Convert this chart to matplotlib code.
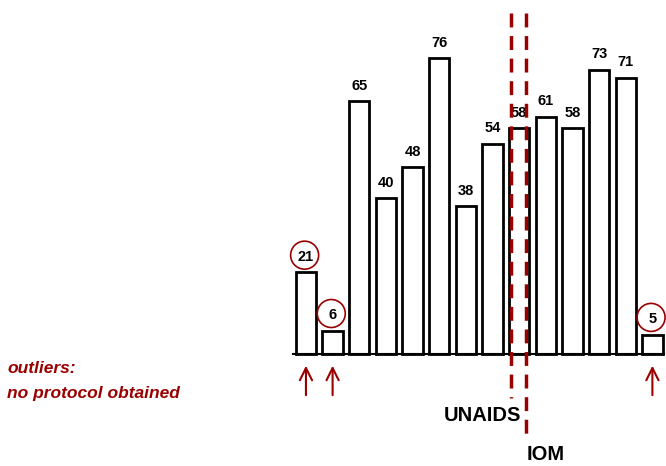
import matplotlib.pyplot as plt
from matplotlib.patches import Ellipse

plt.rcParams['font.family'] = ['Liberation Sans', 'DejaVu Sans']

# data
values = [21, 6, 65, 40, 48, 76, 38, 54, 58, 61, 58, 73, 71, 5]
outlier_idx = [0, 1, 13]
red = '#990000'

fig = plt.figure(figsize=(6.66, 4.66), dpi=100)
ax = fig.add_axes([0, 0, 1, 1])
ax.set_xlim(-11.48, 13.51)
ax.set_ylim(-28.8, 91.0)
ax.axis('off')

x = list(range(len(values)))
ax.bar(x, values, width=0.76, color='white', edgecolor='black', linewidth=2, zorder=2)
ax.plot([-0.5, 13.45], [0, 0], color='black', linewidth=1.5, zorder=3)

# value labels
for i, v in enumerate(values):
    ax.text(i, v + 4.4, str(v), ha='center', va='center_baseline', fontsize=10.5,
            fontweight='bold', zorder=4)

# circles around outliers and arrows below
px_x = 26.65
px_y = 3.89
for i in outlier_idx:
    v = values[i]
    ax.add_patch(Ellipse((i - 0.05, v + 4.4), 28 / px_x, 28 / px_y, fill=False,
                         edgecolor=red, linewidth=1.2, zorder=4))
    ax.annotate('', xy=(i, -2.3), xytext=(i, -11.3),
                arrowprops=dict(arrowstyle='->', color=red, lw=1.5,
                                mutation_scale=22))

# dashed separators
ax.plot([7.69, 7.69], [87.7, -11.3], color=red, linewidth=2.5,
        dashes=(4, 2.5), zorder=5)
ax.plot([8.26, 8.26], [87.7, -21.3], color=red, linewidth=2.5,
        dashes=(4, 2.5), zorder=5)

ax.text(8.07, -15.8, 'UNAIDS', ha='right', va='center', fontsize=14.5, fontweight='bold')
ax.text(8.29, -25.8, 'IOM', ha='left', va='center', fontsize=14.5, fontweight='bold')

ax.text(-11.2, -6.9, 'outliers:\nno protocol obtained', ha='left', va='center',
        fontsize=12.5, fontweight='bold', fontstyle='italic', color=red,
        linespacing=1.85)

fig.savefig('out.png', dpi=100)
